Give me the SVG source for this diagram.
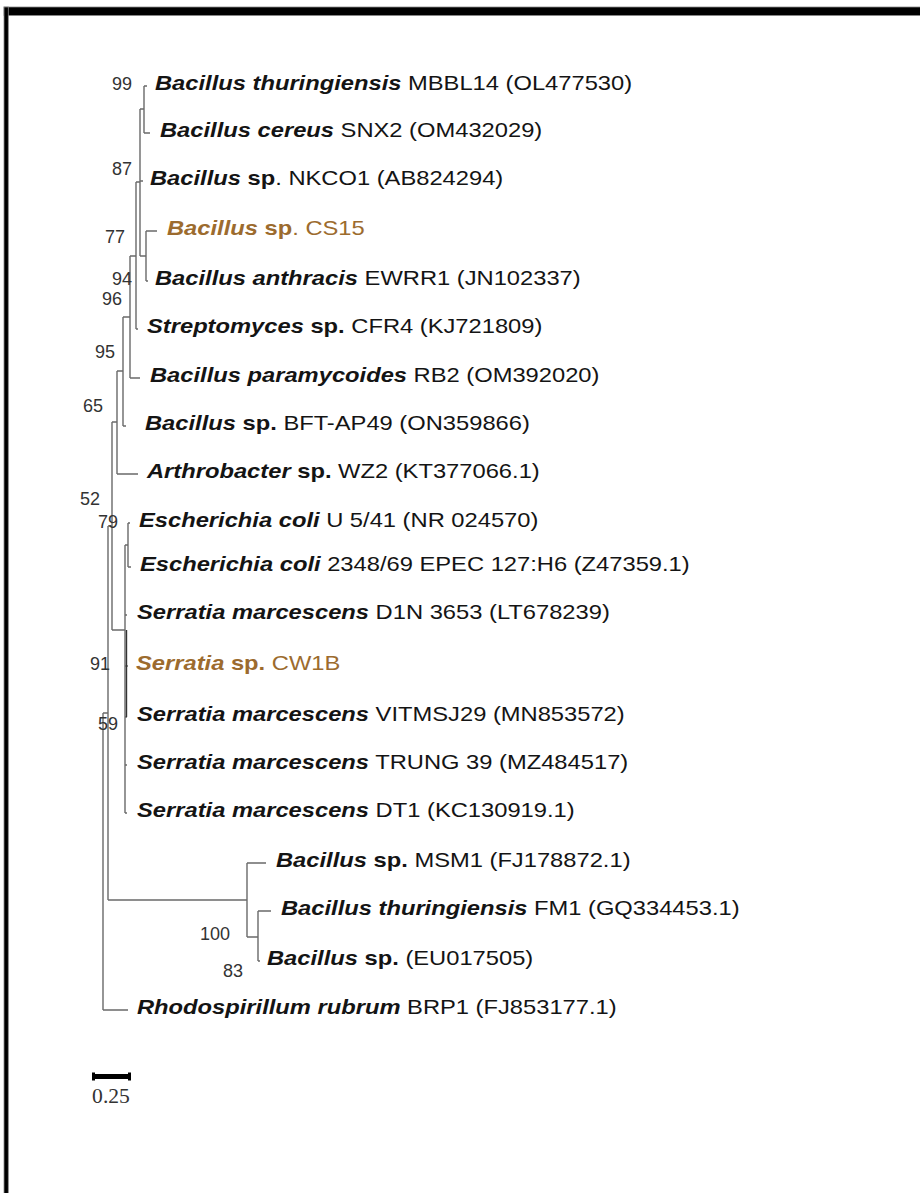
<svg xmlns="http://www.w3.org/2000/svg" width="920" height="1193" viewBox="0 0 920 1193">
<style>
.t{font-family:"Liberation Sans",Arial,sans-serif;font-size:21px;fill:#141414}
.h{fill:#9c6b2e}
.bi{font-weight:bold;font-style:italic}
.b{font-weight:bold}
.bs{font-family:"Liberation Sans",Arial,sans-serif;font-size:18px;fill:#333;text-anchor:end}
.br path{fill:none;stroke:#6a6a6a;stroke-width:1.4}
</style>
<rect width="920" height="1193" fill="#fff"/>
<g id="frame" fill="#000" stroke="#888" stroke-width="0.8">
<rect x="4" y="7" width="920" height="8.5"/>
<rect x="4" y="7" width="4.3" height="1190"/>
</g>
<g id="connectors" class="br">
<path d="M144 86V133M144 86H147M144 133H150"/>
<path d="M140 109V256M140 109H144M140 181H143M140 256H146"/>
<path d="M146 231V281M146 231H157M146 281H148"/>
<path d="M136 182V329M136 182H140M136 329H138"/>
<path d="M130 256V378M130 256H136M130 378H140"/>
<path d="M123 317V426M123 317H130M123 426H126"/>
<path d="M117 371V474M117 371H123M117 474H138"/>
<path d="M112 422V630M112 422H117M112 630H125"/>
<path d="M128 523V567M128 523H130M128 567H131"/>
<path d="M125 545V813M125 545H128M125 615H127M125 666H128M125 717H127M125 765H127M125 813H127"/>
<path d="M126.5 630V717" style="stroke:#333"/>
<path d="M108 526V900M108 526H112M108 900H247"/>
<path d="M247 863V937M247 863H266M247 937H258"/>
<path d="M258 911V961M258 911H271M258 961H260"/>
<path d="M103 713V1010M103 713H108M103 1010H128"/>
</g>
<g id="bootstrap">
<text class="bs" x="132" y="90">99</text>
<text class="bs" x="132" y="175">87</text>
<text class="bs" x="125" y="243">77</text>
<text class="bs" x="132" y="285">94</text>
<text class="bs" x="122" y="305">96</text>
<text class="bs" x="115" y="358">95</text>
<text class="bs" x="103" y="412">65</text>
<text class="bs" x="100" y="505">52</text>
<text class="bs" x="118" y="528">79</text>
<text class="bs" x="110" y="670">91</text>
<text class="bs" x="118" y="730">59</text>
<text class="bs" x="230" y="940">100</text>
<text class="bs" x="243" y="977">83</text>
</g>
<g id="leaf1"><text class="t" transform="translate(155,90) scale(1.13,1)"><tspan class="bi">Bacillus thuringiensis</tspan> MBBL14 (OL477530)</text></g>
<g id="leaf2"><text class="t" transform="translate(160,137) scale(1.13,1)"><tspan class="bi">Bacillus cereus</tspan> SNX2 (OM432029)</text></g>
<g id="leaf3"><text class="t" transform="translate(150,185) scale(1.13,1)"><tspan class="bi">Bacillus</tspan><tspan class="b"> sp</tspan>. NKCO1 (AB824294)</text></g>
<g id="leaf4"><text class="t h" transform="translate(167,235) scale(1.13,1)"><tspan class="bi">Bacillus</tspan><tspan class="b"> sp</tspan>. CS15</text></g>
<g id="leaf5"><text class="t" transform="translate(155,285) scale(1.13,1)"><tspan class="bi">Bacillus anthracis</tspan> EWRR1 (JN102337)</text></g>
<g id="leaf6"><text class="t" transform="translate(147,333) scale(1.13,1)"><tspan class="bi">Streptomyces</tspan><tspan class="b"> sp.</tspan> CFR4 (KJ721809)</text></g>
<g id="leaf7"><text class="t" transform="translate(150,382) scale(1.13,1)"><tspan class="bi">Bacillus paramycoides</tspan> RB2 (OM392020)</text></g>
<g id="leaf8"><text class="t" transform="translate(145,430) scale(1.13,1)"><tspan class="bi">Bacillus</tspan><tspan class="b"> sp.</tspan> BFT-AP49 (ON359866)</text></g>
<g id="leaf9"><text class="t" transform="translate(147,478) scale(1.13,1)"><tspan class="bi">Arthrobacter</tspan><tspan class="b"> sp.</tspan> WZ2 (KT377066.1)</text></g>
<g id="leaf10"><text class="t" transform="translate(139,527) scale(1.13,1)"><tspan class="bi">Escherichia coli</tspan> U 5/41 (NR 024570)</text></g>
<g id="leaf11"><text class="t" transform="translate(140,571) scale(1.13,1)"><tspan class="bi">Escherichia coli</tspan> 2348/69 EPEC 127:H6 (Z47359.1)</text></g>
<g id="leaf12"><text class="t" transform="translate(137,619) scale(1.13,1)"><tspan class="bi">Serratia marcescens</tspan> D1N 3653 (LT678239)</text></g>
<g id="leaf13"><text class="t h" transform="translate(136,670) scale(1.13,1)"><tspan class="bi">Serratia</tspan><tspan class="b"> sp.</tspan> CW1B</text></g>
<g id="leaf14"><text class="t" transform="translate(137,721) scale(1.13,1)"><tspan class="bi">Serratia marcescens</tspan> VITMSJ29 (MN853572)</text></g>
<g id="leaf15"><text class="t" transform="translate(137,769) scale(1.13,1)"><tspan class="bi">Serratia marcescens</tspan> TRUNG 39 (MZ484517)</text></g>
<g id="leaf16"><text class="t" transform="translate(137,817) scale(1.13,1)"><tspan class="bi">Serratia marcescens</tspan> DT1 (KC130919.1)</text></g>
<g id="leaf17"><text class="t" transform="translate(276,867) scale(1.13,1)"><tspan class="bi">Bacillus</tspan><tspan class="b"> sp.</tspan> MSM1 (FJ178872.1)</text></g>
<g id="leaf18"><text class="t" transform="translate(281,915) scale(1.13,1)"><tspan class="bi">Bacillus thuringiensis</tspan> FM1 (GQ334453.1)</text></g>
<g id="leaf19"><text class="t" transform="translate(267,965) scale(1.13,1)"><tspan class="bi">Bacillus</tspan><tspan class="b"> sp.</tspan> (EU017505)</text></g>
<g id="leaf20"><text class="t" transform="translate(137,1014) scale(1.13,1)"><tspan class="bi">Rhodospirillum rubrum</tspan> BRP1 (FJ853177.1)</text></g>
<g id="scale">
<rect x="92" y="1074" width="39" height="5" fill="#000"/>
<rect x="92" y="1072.5" width="3" height="8" fill="#000"/>
<rect x="128" y="1072.5" width="3" height="8" fill="#000"/>
<text transform="translate(111,1103) scale(1.08,1)" text-anchor="middle" font-family="Liberation Serif,Times New Roman,serif" font-size="20" fill="#333">0.25</text>
</g>
</svg>
